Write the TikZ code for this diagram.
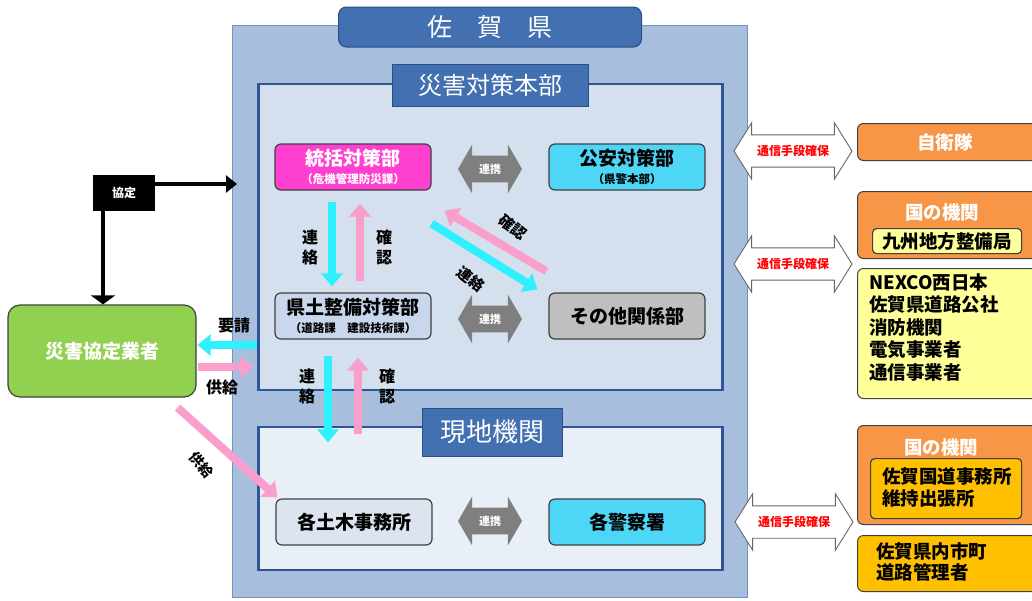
\documentclass[tikz,border=0pt]{standalone}
\usepackage{fontspec}
\setmainfont{Noto Sans CJK JP}
\usetikzlibrary{arrows.meta,shapes.arrows}

\definecolor{sagafill}{HTML}{A7BFDD}
\definecolor{sagaline}{HTML}{7093C4}
\definecolor{honbufill}{HTML}{D5E0EE}
\definecolor{genchifill}{HTML}{E9EFF7}
\definecolor{frameline}{HTML}{2F5597}
\definecolor{titlefill}{HTML}{4270B0}
\definecolor{titleline}{HTML}{2A4F86}
\definecolor{magentaC}{HTML}{FF3FCF}
\definecolor{cyanbox}{HTML}{4DD6F5}
\definecolor{kendoC}{HTML}{C9D7EC}
\definecolor{dobokuC}{HTML}{DCE4F0}
\definecolor{sonotaC}{HTML}{BFBFBF}
\definecolor{greenC}{HTML}{92D050}
\definecolor{orangeC}{HTML}{F79646}
\definecolor{lyellowC}{HTML}{FFFF99}
\definecolor{goldC}{HTML}{FFC000}
\definecolor{arrowcyan}{HTML}{2EF0FF}
\definecolor{arrowpink}{HTML}{FA9FCB}
\definecolor{linkgray}{HTML}{7F7F7F}
\definecolor{unitline}{HTML}{404040}

\newcommand{\smalltxt}{\fontsize{11.5}{13}\selectfont\bfseries}

\begin{document}
\begin{tikzpicture}[x=1pt,y=-1pt]

%-------------------------------------------------
% Styles
%-------------------------------------------------
\tikzset{
  sagabox/.style={draw=sagaline, fill=sagafill, line width=1pt, inner sep=0pt},
  framebox/.style={draw=frameline, line width=2.5pt, inner sep=0pt},
  titlebox/.style={draw=titleline, fill=titlefill, line width=1pt, text=white, inner sep=0pt},
  unit/.style={draw=unitline, rounded corners=6pt, line width=1.2pt,
    minimum width=156, minimum height=46, align=center, inner sep=0pt,
    font=\fontsize{19}{21}\selectfont\bfseries},
  linkarrow/.style={double arrow, fill=linkgray, text=white,
    font=\fontsize{11}{11}\selectfont\bfseries, minimum height=64,
    double arrow head extend=11pt, double arrow tip angle=120,
    inner xsep=2pt, inner ysep=8pt},
  commarrow/.style={double arrow, draw=gray!80!black, fill=white, line width=0.9pt,
    text=red, font=\fontsize{12}{12}\selectfont\bfseries, minimum height=118,
    double arrow head extend=12pt, double arrow tip angle=116,
    inner xsep=4pt, inner ysep=10pt},
  fatcyan/.style={draw=arrowcyan, line width=8pt, -{Triangle[length=13pt,width=21pt]}},
  fatpink/.style={draw=arrowpink, line width=8pt, -{Triangle[length=13pt,width=21pt]}},
  blackarrow/.style={draw=black, line width=3.5pt},
  lbl/.style={align=center, inner sep=0pt, font=\fontsize{16}{20}\selectfont\bfseries},
  extbox/.style={draw=unitline, rounded corners=6pt, line width=1pt, anchor=north west, inner sep=0pt},
  exttext/.style={font=\fontsize{18.5}{22.5}\selectfont\bfseries}
}

\clip (0,0) rectangle (1032,600);
\fill[white] (0,0) rectangle (1032,600);

%-------------------------------------------------
% Saga prefecture frame
%-------------------------------------------------
\node[sagabox, minimum width=515, minimum height=572] (saga) at (490,311) {};
\node[framebox, fill=honbufill, minimum width=464, minimum height=306] (honbu) at (490.5,237) {};
\node[framebox, fill=genchifill, minimum width=464, minimum height=143] (genchi) at (490.5,498.5) {};

% Titles
\node[titlebox, rounded corners=8pt, minimum width=303, minimum height=40,
  font=\fontsize{25}{25}\selectfont] (sagatitle) at (490,27)
  {佐\hspace{25pt}賀\hspace{25pt}県};
\node[titlebox, minimum width=196, minimum height=42,
  font=\fontsize{24}{24}\selectfont] (honbutitle) at (490,85) {災害対策本部};
\node[titlebox, minimum width=140, minimum height=48,
  font=\fontsize{26}{26}\selectfont] (genchititle) at (492,432) {現地機関};

%-------------------------------------------------
% Units inside
%-------------------------------------------------
\node[unit, fill=magentaC, text=white] (togatsu) at (353,167)
  {統括対策部\\[-3pt]{\smalltxt （危機管理防災課）}};
\node[unit, fill=cyanbox] (koan) at (627,167)
  {公安対策部\\[-3pt]{\smalltxt （県警本部）}};
\node[unit, fill=kendoC] (kendo) at (353,316)
  {県土整備対策部\\[-3pt]{\smalltxt （道路課　建設技術課）}};
\node[unit, fill=sonotaC] (sonota) at (627,316) {その他関係部};
\node[unit, fill=dobokuC] (doboku) at (354,522) {各土木事務所};
\node[unit, fill=cyanbox] (keisatsu) at (627,522) {各警察署};

% Liaison arrows
\node[linkarrow] (link1) at (490,169) {連携};
\node[linkarrow] (link2) at (490,319) {連携};
\node[linkarrow] (link3) at (490,521) {連携};

%-------------------------------------------------
% Contact / confirm arrows
%-------------------------------------------------
\draw[fatcyan] ([xshift=-21pt,yshift=-11pt]togatsu.south) -- ([xshift=-21pt,yshift=6pt]kendo.north);
\draw[fatpink] ([xshift=7pt,yshift=11pt]kendo.north) -- ([xshift=7pt,yshift=-13pt]togatsu.south);
\node[lbl] (renraku1) at (310,247) {連\\絡};
\node[lbl] (kakunin1) at (384,247) {確\\認};

\draw[fatcyan] ([xshift=-25pt,yshift=-16pt]kendo.south) -- ([xshift=-26pt,yshift=56pt]doboku.north);
\draw[fatpink] ([xshift=4pt,yshift=64pt]doboku.north) -- ([xshift=5pt,yshift=-18pt]kendo.south);
\node[lbl] (renraku2) at (307,386) {連\\絡};
\node[lbl] (kakunin2) at (387,386) {確\\認};

\draw[fatcyan] ([yshift=-33pt]togatsu.south east) -- ([xshift=-11pt,yshift=3pt]sonota.north west);
\draw[fatpink] ([xshift=-2pt,yshift=21pt]sonota.north west) -- ([xshift=13pt,yshift=-20pt]togatsu.south east);
\node[lbl, rotate=-38, font=\fontsize{15}{15}\selectfont\bfseries] (kakunin3) at (513,227) {確認};
\node[lbl, rotate=-38, font=\fontsize{15}{15}\selectfont\bfseries] (renraku3) at (471,279) {連絡};

%-------------------------------------------------
% Disaster agreement contractors
%-------------------------------------------------
\node[draw=unitline, fill=greenC, rounded corners=12pt, line width=1.2pt,
  minimum width=188, minimum height=92, text=white,
  font=\fontsize{19}{21}\selectfont\bfseries] (gyosha) at (102,351) {災害協定業者};

\node[fill=black, text=white, minimum width=62, minimum height=36, inner sep=0pt,
  font=\fontsize{12}{12}\selectfont\bfseries] (kyotei) at (124,193) {協定};
\coordinate (kyoteiend) at (237,184);
\draw[blackarrow, -{Triangle[length=11pt,width=17pt]}] ([yshift=9pt]kyotei.east) -- (kyoteiend);
\draw[blackarrow, -{Triangle[length=9pt,width=24pt]}] ([xshift=-21pt]kyotei.south) -- ([xshift=1pt]gyosha.north);

\draw[fatcyan] ([xshift=60pt,yshift=6pt]gyosha.east) -- ([xshift=1pt,yshift=6pt]gyosha.east);
\draw[fatpink] ([xshift=1pt,yshift=-16pt]gyosha.east) -- ([xshift=57pt,yshift=-16pt]gyosha.east);
\node[lbl] (yosei) at (234,325) {要請};
\node[lbl] (kyokyu1) at (222,387) {供給};

\draw[fatpink] ([xshift=-19pt,yshift=-10pt]gyosha.south east) -- ([xshift=2pt,yshift=1pt]doboku.north west);
\node[lbl, rotate=-50, font=\fontsize{14}{14}\selectfont\bfseries] (kyokyu2) at (202,465) {供給};

%-------------------------------------------------
% Outside organisations
%-------------------------------------------------
\node[commarrow] (comm1) at (793,151) {通信手段確保};
\node[commarrow] (comm2) at (793,264) {通信手段確保};
\node[commarrow] (comm3) at (794,522) {通信手段確保};

\node[extbox, fill=orangeC, minimum width=180, minimum height=37] (jieitai) at (857,123) {};
\node[exttext, text=white] (jieitaitext) at (945,142) {自衛隊};

\node[extbox, fill=orangeC, minimum width=180, minimum height=67] (kuni1) at (857,191) {};
\node[exttext, text=white] (kuni1title) at (942,212) {国の機関};
\node[extbox, fill=lyellowC, minimum width=149, minimum height=25, line width=1.2pt,
  rounded corners=4pt, exttext] (kyushu) at (872,228) {九州地方整備局};

\node[extbox, fill=lyellowC, minimum width=180, minimum height=130] (others) at (857,268) {};
\node[exttext, anchor=north west, align=left, inner sep=0pt] (otherstext) at (869,273)
  {NEXCO西日本\\佐賀県道路公社\\消防機関\\電気事業者\\通信事業者};

\node[extbox, fill=orangeC, minimum width=180, minimum height=99] (kuni2) at (857,425) {};
\node[exttext, text=white] (kuni2title) at (941,447) {国の機関};
\node[extbox, fill=goldC, minimum width=151, minimum height=60, line width=1.2pt,
  rounded corners=4pt] (kokudo) at (870,458) {};
\node[exttext, anchor=north west, align=left, inner sep=0pt] (kokudotext) at (882,467)
  {佐賀国道事務所\\維持出張所};

\node[extbox, fill=goldC, minimum width=180, minimum height=56] (shicho) at (857,535) {};
\node[exttext, anchor=north west, align=left, inner sep=0pt,
  font=\fontsize{18.5}{21}\selectfont\bfseries] (shichotext) at (876,542)
  {佐賀県内市町\\道路管理者};

\end{tikzpicture}
\end{document}
